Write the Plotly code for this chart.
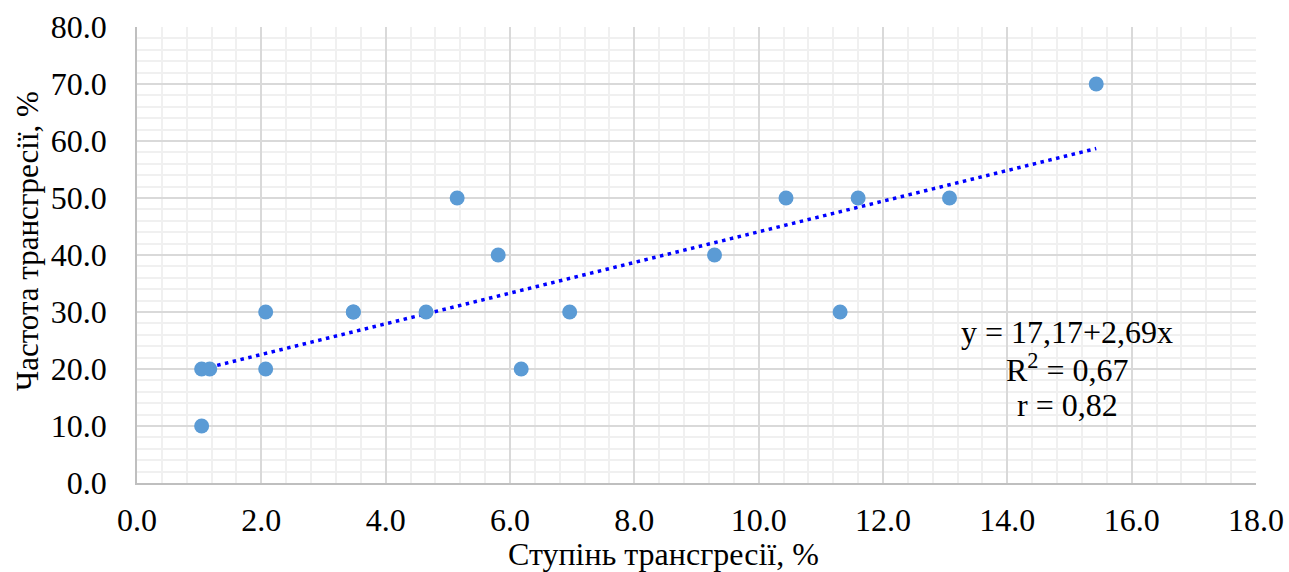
import plotly.graph_objects as go
import numpy as np

# Data
x_vals = [1.04, 1.17, 1.04, 2.07, 2.07, 3.48, 3.48, 4.65, 5.15, 5.81, 6.18, 6.96, 9.29, 10.44, 11.31, 11.60, 13.07, 15.43]
y_vals = [20, 20, 10, 30, 20, 30, 30, 30, 50, 40, 20, 30, 40, 50, 30, 50, 50, 70]

intercept = 17.17
slope = 2.69
eq_lines = ["y = 17,17+2,69x", "R<sup>2</sup> = 0,67", "r = 0,82"]

x_ticks = [0, 2, 4, 6, 8, 10, 12, 14, 16, 18]
y_ticks = [0, 10, 20, 30, 40, 50, 60, 70, 80]

x_title = "Ступінь трансгресії, %"
y_title = "Частота трансгресії, %"

FONT = "Liberation Serif"
FS = 32

W, H = 1289, 572
L, R, T, B = 137, 33, 27, 89
PW, PH = W - L - R, H - T - B


def px_to_paper(px, py):
    return (px - L) / PW, (H - B - py) / PH


trend_x = np.linspace(min(x_vals), max(x_vals), 50)
trend_y = intercept + slope * trend_x

fig = go.Figure()
fig.add_trace(go.Scatter(
    x=trend_x, y=trend_y, mode="lines",
    line=dict(color="#0000FF", width=3.5, dash="3.5px,4.5px"),
    hoverinfo="skip", showlegend=False))
fig.add_trace(go.Scatter(
    x=x_vals, y=y_vals, mode="markers",
    marker=dict(color="#5B9BD5", size=15, line=dict(width=0)),
    showlegend=False))

axis_common = dict(
    showgrid=True, gridcolor="#D9D9D9", gridwidth=1.5,
    zeroline=False, showline=True, linecolor="#BFBFBF", linewidth=1.5,
    ticks="", tickfont=dict(family=FONT, size=FS, color="#000000"),
    automargin=False,
)

fig.update_xaxes(
    range=[0, 18], tickmode="array", tickvals=x_ticks,
    ticktext=[f"{v:.1f}" for v in x_ticks],
    minor=dict(dtick=0.4, tick0=0, showgrid=True, gridcolor="#F0F0F0", gridwidth=1.5),
    ticklabelstandoff=8,
    **axis_common)
fig.update_yaxes(
    range=[0, 80], tickmode="array", tickvals=y_ticks,
    ticktext=[f"{v:.1f}" for v in y_ticks],
    minor=dict(dtick=2, tick0=0, showgrid=True, gridcolor="#F0F0F0", gridwidth=1.5),
    ticklabelstandoff=22,
    **axis_common)

for line_text, py in zip(eq_lines, [332, 368, 405]):
    ax_, ay_ = px_to_paper(1067, py)
    fig.add_annotation(
        text=line_text, xref="paper", yref="paper",
        x=ax_, y=ay_, xanchor="center", yanchor="middle",
        showarrow=False, align="center",
        font=dict(family=FONT, size=FS, color="#000000"))

tx, ty = px_to_paper(663, 554)
fig.add_annotation(
    text=x_title, xref="paper", yref="paper",
    x=tx, y=ty, xanchor="center", yanchor="middle",
    showarrow=False, font=dict(family=FONT, size=FS, color="#000000"))
tx, ty = px_to_paper(27, 241)
fig.add_annotation(
    text=y_title, xref="paper", yref="paper", textangle=-90,
    x=tx, y=ty, xanchor="center", yanchor="middle",
    showarrow=False, font=dict(family=FONT, size=31, color="#000000"))

fig.update_layout(
    width=W, height=H,
    margin=dict(l=L, r=R, t=T, b=B, autoexpand=False),
    plot_bgcolor="white", paper_bgcolor="white",
    font=dict(family=FONT),
)

fig.write_html(
    "out.html",
    config={"displayModeBar": False},
    post_script="document.body.style.margin='0';document.body.style.overflow='hidden';")
